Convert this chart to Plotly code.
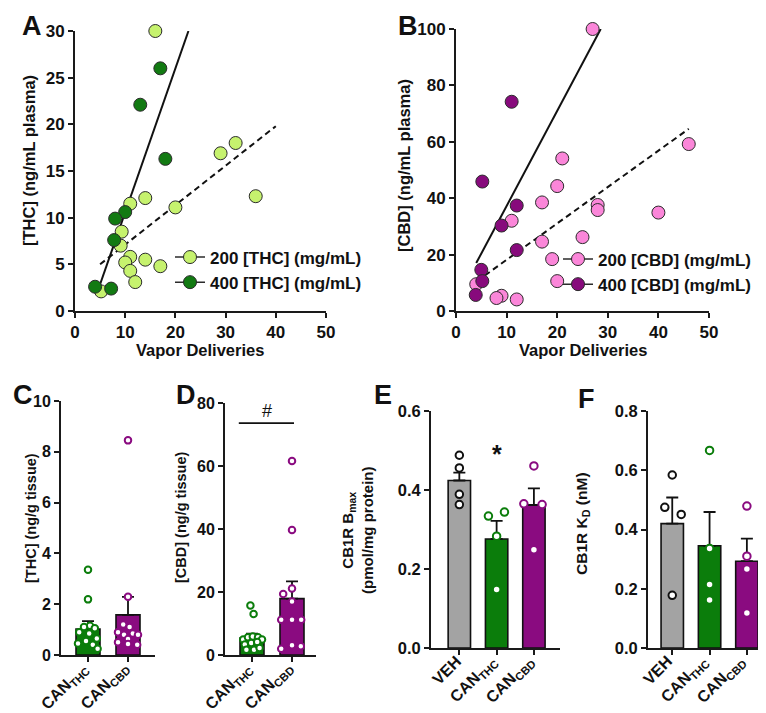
import plotly.graph_objects as go

W, H = 766, 713
FONT = "Liberation Sans"

# ---------------- DATA ----------------
# Panel A: plasma THC vs vapor deliveries
a200_x = [16, 29, 32, 36, 14, 20, 11, 9.3, 9.1, 11, 10, 11, 12, 14, 17, 5.2]
a200_y = [30, 16.9, 18.0, 12.3, 12.1, 11.1, 11.5, 8.5, 7.0, 5.8, 5.2, 4.3, 3.1, 5.5, 4.8, 2.1]
a400_x = [17, 13, 18, 10, 8, 7.8, 4, 7.2]
a400_y = [26.0, 22.1, 16.3, 10.6, 9.9, 7.6, 2.6, 2.4]
a400_fit_x = [4.6, 22.6]
a400_fit_y = [2.25, 30.0]
a200_fit_x = [5.0, 40.0]
a200_fit_y = [5.0, 19.8]

# Panel B: plasma CBD vs vapor deliveries
b200_x = [27, 46, 21, 20, 17, 28, 28, 40, 11, 17, 25, 19, 20, 4, 9, 8, 12]
b200_y = [100, 59.2, 54.1, 44.3, 38.5, 37.6, 35.8, 34.9, 32.0, 24.6, 26.2, 18.4, 10.6, 9.5, 5.4, 4.6, 4.1]
b400_x = [11, 5.2, 12, 9, 12, 5, 5.2, 3.9]
b400_y = [74.2, 45.9, 37.4, 30.3, 21.6, 14.6, 10.6, 5.7]
b400_fit_x = [4.0, 28.6]
b400_fit_y = [17.0, 100.0]
b200_fit_x = [5.7, 46.0]
b200_fit_y = [12.6, 64.6]

# Panel C: brain THC (ng/g tissue)
two_groups = ["CAN<sub>THC</sub>", "CAN<sub>CBD</sub>"]
c_mean = [1.02, 1.58]
c_sem = [0.31, 0.71]
c_thc_pts = [3.36, 2.19, 1.15, 1.1, 1.05, 0.9, 0.85, 0.65, 0.55, 0.45, 0.4, 0.25]
c_thc_jit = [0, 0, 0.05, -0.1, 0.17, -0.22, 0.03, 0.22, -0.05, -0.25, 0.12, 0.24]
c_cbd_pts = [8.45, 2.29, 1.2, 1.1, 0.9, 0.8, 0.85, 0.8, 0.63, 0.5, 0.43, 0.4]
c_cbd_jit = [0, 0, -0.12, 0.04, -0.25, -0.1, 0.12, 0.25, 0, -0.25, 0, 0.23]

# Panel D: brain CBD (ng/g tissue)
d_mean = [5.4, 17.9]
d_sem = [1.4, 5.5]
d_thc_pts = [15.7, 13.0, 4.9, 5.6, 5.9, 5.6, 4.9, 3.3, 3.8, 4.1, 1.7, 1.7, 2.2]
d_thc_jit = [-0.04, 0.04, -0.22, -0.1, 0.02, 0.15, 0.25, -0.18, -0.02, 0.13, -0.14, 0.05, 0.19]
d_cbd_pts = [61.6, 39.7, 21.1, 19.4, 17.0, 11.2, 11.2, 11.2, 2.0, 3.1, 2.75]
d_cbd_jit = [0, 0, 0, -0.22, 0, -0.27, 0, 0.23, -0.27, 0, 0.22]

# Panel E: CB1R Bmax
three_groups = ["VEH", "CAN<sub>THC</sub>", "CAN<sub>CBD</sub>"]
e_mean = [0.424, 0.276, 0.362]
e_sem = [0.02, 0.046, 0.042]
e_veh = [0.488, 0.456, 0.389, 0.363]
e_veh_jit = [0, 0, 0, 0]
e_thc = [0.334, 0.344, 0.283, 0.148]
e_thc_jit = [-0.22, 0.21, 0, 0]
e_cbd = [0.461, 0.365, 0.363, 0.249]
e_cbd_jit = [0, -0.27, 0.22, 0]

# Panel F: CB1R KD
f_mean = [0.42, 0.345, 0.293]
f_sem = [0.088, 0.114, 0.076]
f_veh = [0.584, 0.475, 0.451, 0.178]
f_veh_jit = [0, -0.2, 0.24, 0]
f_thc = [0.667, 0.336, 0.214, 0.162]
f_thc_jit = [0, 0, 0, 0]
f_cbd = [0.479, 0.31, 0.267, 0.118]
f_cbd_jit = [0, 0, 0, 0]

# ---------------- STYLE ----------------
LIGHT_GREEN = "#c6f26e"
DARK_GREEN = "#127a12"
BAR_GREEN = "#0b7d0b"
PINK = "#fb86d9"
PURPLE = "#870a7c"
BAR_PURPLE = "#8a0b80"
GRAY = "#a3a3a3"
AX = "#1a1a1a"


def px(x):
    return x / W


def py(y):
    return 1 - y / H


fig = go.Figure()


def scatter_pts(xs, ys, color, ax):
    fig.add_trace(go.Scatter(
        x=xs, y=ys, mode="markers", xaxis=ax[0], yaxis=ax[1], showlegend=False,
        cliponaxis=False,
        marker=dict(symbol="circle", size=13, color=color, line=dict(color="#2b2b2b", width=1)),
    ))


def fit_line(xs, ys, dash, ax):
    fig.add_trace(go.Scatter(
        x=xs, y=ys, mode="lines", xaxis=ax[0], yaxis=ax[1], showlegend=False,
        cliponaxis=False, line=dict(color="#111", width=2, dash=dash),
    ))


def legend_item(name, color, leg):
    fig.add_trace(go.Scatter(
        x=[None], y=[None], mode="lines+markers", name=name, legend=leg,
        marker=dict(symbol="circle", size=13, color=color, line=dict(color="#2b2b2b", width=1)),
        line=dict(color="#2b2b2b", width=1.5),
    ))


# Panel A
fit_line(a400_fit_x, a400_fit_y, "solid", ("x", "y"))
fit_line(a200_fit_x, a200_fit_y, "6px,4px", ("x", "y"))
scatter_pts(a200_x, a200_y, LIGHT_GREEN, ("x", "y"))
scatter_pts(a400_x, a400_y, DARK_GREEN, ("x", "y"))
legend_item("200 [THC] (mg/mL)", LIGHT_GREEN, "legend")
legend_item("400 [THC] (mg/mL)", DARK_GREEN, "legend")

# Panel B
fit_line(b400_fit_x, b400_fit_y, "solid", ("x2", "y2"))
fit_line(b200_fit_x, b200_fit_y, "6px,4px", ("x2", "y2"))
scatter_pts(b200_x, b200_y, PINK, ("x2", "y2"))
scatter_pts(b400_x, b400_y, PURPLE, ("x2", "y2"))
legend_item("200 [CBD] (mg/mL)", PINK, "legend2")
legend_item("400 [CBD] (mg/mL)", PURPLE, "legend2")


def bar_panel(means, sems, colors, groups_pts, ax, size, lw):
    n = len(means)
    fig.add_trace(go.Bar(
        x=list(range(n)), y=means, width=0.6, xaxis=ax[0], yaxis=ax[1], showlegend=False,
        marker=dict(color=colors, line=dict(color="#111", width=1.6)),
        error_y=dict(type="data", array=sems, arrayminus=[0] * n, symmetric=False,
                     color="#111", thickness=1.8, width=6),
    ))
    for i, (vals, jit, c) in enumerate(groups_pts):
        fig.add_trace(go.Scatter(
            x=[i + j for j in jit], y=vals, mode="markers", xaxis=ax[0], yaxis=ax[1],
            showlegend=False, cliponaxis=False,
            marker=dict(symbol="circle", size=size, color="white", line=dict(color=c, width=lw)),
        ))


bar_panel(c_mean, c_sem, [BAR_GREEN, BAR_PURPLE],
          [(c_thc_pts, c_thc_jit, BAR_GREEN), (c_cbd_pts, c_cbd_jit, BAR_PURPLE)], ("x3", "y3"), 6.5, 2)
bar_panel(d_mean, d_sem, [BAR_GREEN, BAR_PURPLE],
          [(d_thc_pts, d_thc_jit, BAR_GREEN), (d_cbd_pts, d_cbd_jit, BAR_PURPLE)], ("x4", "y4"), 6.5, 2)
bar_panel(e_mean, e_sem, [GRAY, BAR_GREEN, BAR_PURPLE],
          [(e_veh, e_veh_jit, "#111"), (e_thc, e_thc_jit, BAR_GREEN), (e_cbd, e_cbd_jit, BAR_PURPLE)],
          ("x5", "y5"), 7.5, 2)
bar_panel(f_mean, f_sem, [GRAY, BAR_GREEN, BAR_PURPLE],
          [(f_veh, f_veh_jit, "#111"), (f_thc, f_thc_jit, BAR_GREEN), (f_cbd, f_cbd_jit, BAR_PURPLE)],
          ("x6", "y6"), 7.5, 2)


def axis(domain, rng, anchor, tickfont_size, **kw):
    d = dict(
        domain=domain, range=rng, anchor=anchor, showline=True, linecolor=AX, linewidth=1.8,
        ticks="outside", ticklen=5, tickwidth=1.6, tickcolor=AX, showgrid=False, zeroline=False,
        automargin=False, fixedrange=True,
        tickfont=dict(family=FONT, size=tickfont_size, color="#111", weight="bold"),
    )
    d.update(kw)
    return d


CT = 16     # C/D y tick labels
ET = 16.5   # E/F y tick labels

layout_axes = dict(
    xaxis=axis([px(67), px(318)], [0, 50], "y", 17, tickvals=[0, 10, 20, 30, 40, 50]),
    yaxis=axis([py(303), py(23)], [0, 30], "x", 17, tickvals=[0, 5, 10, 15, 20, 25, 30]),
    xaxis2=axis([px(448), px(701)], [0, 50], "y2", 17, tickvals=[0, 10, 20, 30, 40, 50]),
    yaxis2=axis([py(303), py(21)], [0, 100], "x2", 17, tickvals=[0, 20, 40, 60, 80, 100]),
    xaxis3=axis([px(53), px(147)], [-0.675, 1.675], "y3", 12, tickvals=[0, 1], showticklabels=False),
    yaxis3=axis([py(647), py(393)], [0, 10], "x3", CT, tickvals=[0, 2, 4, 6, 8, 10]),
    xaxis4=axis([px(217), px(308)], [-0.675, 1.6], "y4", 12, tickvals=[0, 1], showticklabels=False),
    yaxis4=axis([py(647), py(395)], [0, 80], "x4", CT, tickvals=[0, 20, 40, 60, 80]),
    xaxis5=axis([px(423), px(552)], [-0.76, 2.7], "y5", 12, tickvals=[0, 1, 2], showticklabels=False),
    yaxis5=axis([py(640), py(403)], [0, 0.6], "x5", ET, tickvals=[0, 0.2, 0.4, 0.6], tickformat=".1f"),
    xaxis6=axis([px(640), px(765)], [-0.65, 2.7], "y6", 12, tickvals=[0, 1, 2], showticklabels=False),
    yaxis6=axis([py(640), py(403)], [0, 0.8], "x6", ET, tickvals=[0, 0.2, 0.4, 0.6, 0.8], tickformat=".1f"),
)

ann = []


def text(x, y, s, size, angle=0, xanchor="center", yanchor="middle"):
    ann.append(dict(x=px(x), y=py(y), xref="paper", yref="paper", text=s, showarrow=False,
                    textangle=angle, xanchor=xanchor, yanchor=yanchor,
                    font=dict(family=FONT, size=size, color="#111", weight="bold")))


def cat_labels(xref, axis_y, labels, size, dx):
    # rotated category labels whose upper-right end sits just below each tick
    for i, lab in enumerate(labels):
        ann.append(dict(x=i, y=py(axis_y), xref=xref, yref="paper", text=lab, showarrow=False,
                        textangle=-45, xanchor="right", yanchor="top", xshift=dx, yshift=-3,
                        borderpad=0,
                        font=dict(family=FONT, size=size, color="#111", weight="bold")))


LAB = 16
cat_labels("x3", 647, two_groups, LAB, 6)
cat_labels("x4", 647, two_groups, LAB, 6)
cat_labels("x5", 640, three_groups, LAB, 6)
cat_labels("x6", 640, three_groups, LAB, 4)

# panel letters
text(24, 18, "A", 27)
text(400, 18, "B", 27)
text(15, 387, "C", 27)
text(178, 387, "D", 27)
text(375, 387, "E", 27)
text(578, 391, "F", 27)

# axis titles (rotated ones render a few px right of the anchor, compensated here)
text(21, 153, "[THC] (ng/mL plasma)", 16.5, angle=-90)
text(192, 342, "Vapor Deliveries", 16.5)
text(396, 158, "[CBD] (ng/mL plasma)", 16.5, angle=-90)
text(575, 342, "Vapor Deliveries", 16.5)
text(23, 510, "[THC] (ng/g tissue)", 14.5, angle=-90)
text(173, 510, "[CBD] (ng/g tissue)", 14.5, angle=-90)
text(349, 522, "CB1R B<sub>max</sub><br>(pmol/mg protein)", 15, angle=-90)
text(574, 516, "CB1R K<sub>D</sub> (nM)", 15.5, angle=-90)

# significance marks
ann.append(dict(x=0.375, y=77.5, xref="x4", yref="y4", text="#", showarrow=False,
                font=dict(family=FONT, size=18, color="#111")))
ann.append(dict(x=1, y=0.49, xref="x5", yref="y5", text="*", showarrow=False,
                font=dict(family=FONT, size=25, color="#111", weight="bold")))

shapes = [dict(type="line", xref="x4", yref="y4", x0=-0.33, x1=1.05, y0=73.6, y1=73.6,
               line=dict(color="#111", width=1.8))]

legend_font = dict(family=FONT, size=17, color="#111", weight="bold")

fig.update_layout(
    width=W, height=H, margin=dict(l=0, r=0, t=0, b=0),
    paper_bgcolor="white", plot_bgcolor="white", template=None,
    annotations=ann, shapes=shapes,
    legend=dict(x=px(162), y=py(262), xanchor="left", yanchor="middle", bgcolor="rgba(0,0,0,0)",
                font=legend_font, tracegroupgap=0, itemwidth=30),
    legend2=dict(x=px(550), y=py(264), xanchor="left", yanchor="middle", bgcolor="rgba(0,0,0,0)",
                 font=legend_font, tracegroupgap=0, itemwidth=30),
    **layout_axes,
)

fig.write_html("out.html")
